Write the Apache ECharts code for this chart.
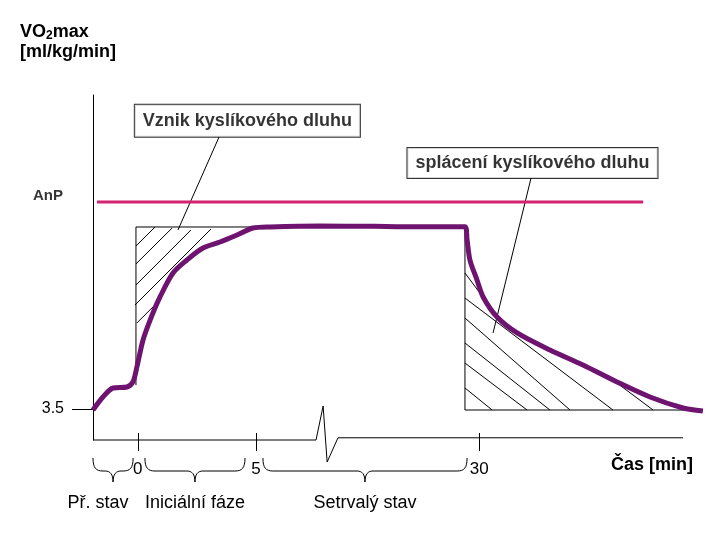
<!DOCTYPE html>
<html>
<head>
<meta charset="utf-8">
<script src="https://cdn.jsdelivr.net/npm/echarts@6/dist/echarts.min.js"></script>
<style>
  html, body { margin: 0; background: #fff; }
  #chart { width: 720px; height: 540px; }
</style>
</head>
<body>
<div id="chart"></div>
<script>
// schematic time axis: 1 unit = 1 min up to the break, the "30 min" tick sits at 14.46
var tickPos = [0, 5, 14.46]
var tickLabels = ['0', '5', '30']
var yTicks = [3.5]
var anpLevel = 26.9
var anpFrom = -1.73
var anpTo = 21.41

// VO2 curve (ml/kg/min)
var curveX = [-1.9, -1.48, -1.05, -0.46, -0.21, -0.04, 0.22, 0.52, 0.94, 1.49, 2.08, 2.76, 3.48, 4.2, 4.88, 5.6, 7.72, 10.0, 12.0, 13.86,
  13.95, 14.07, 14.37, 14.63, 15.22, 16.07, 17.46, 18.86, 20.3, 21.7, 23.1, 23.94]
var curveY = [3.39, 4.86, 5.88, 5.99, 6.56, 8.25, 11.3, 13.56, 16.17, 18.88, 20.35, 21.7, 22.38, 23.17, 23.96, 24.08, 24.19, 24.15, 24.1, 24.1,
  22.61, 20.35, 18.09, 16.17, 13.9, 12.1, 10.17, 8.48, 6.56, 4.86, 3.62, 3.28]

// oxygen deficit / debt frames
var deficitFrame = [[-0.08, 6.2], [-0.08, 24.08], [4.9, 24.08]]
var debtFrame = [[13.86, 24.08], [13.86, 3.39], [23.94, 3.39]]

// hatch strokes [x1, y1, x2, y2]
var deficitHatch = [
  [-0.08, 21.93, 0.73, 24.08],
  [-0.08, 19.9, 1.45, 23.96],
  [-0.08, 17.52, 2.25, 23.74],
  [-0.12, 15.26, 3.1, 23.85],
  [-0.04, 13.23, 0.85, 15.6]
]
var debtHatch = [
  [13.86, 18.88, 15.22, 14.02],
  [13.86, 16.05, 20.13, 3.39],
  [13.86, 13.79, 18.31, 3.39],
  [13.86, 10.97, 17.46, 3.39],
  [13.86, 8.7, 16.49, 3.39],
  [13.86, 5.88, 15.01, 3.39],
  [20.3, 6.44, 21.83, 3.39]
]

// callouts
var notes = ['Vznik kyslíkového dluhu', 'splácení kyslíkového dluhu']
var noteX = [4.64, 16.72]
var noteY = [36.1, 31.31]
var pointerFrom = [[3.44, 34.25], [16.66, 29.62]]
var pointerTo = [[1.7, 23.74], [15.05, 12.1]]
var anpLabelAt = [-3.81, 27.58]

// phases under the axis
var phaseFrom = [-1.9, 0.3, 5.3]
var phaseTo = [-0.2, 4.54, 13.95]
var phaseLabels = ['Př. stav', 'Iniciální fáze', 'Setrvalý stav']

// x axis drawn by hand because of the break
var axisPath = [[-1.9, 0], [7.55, 0], [7.85, 3.84], [8.02, -2.49], [8.48, 0.25], [23.1, 0.25]]

var FONT = 'Liberation Sans, Arial, sans-serif'
var phaseShift = [-15, 0, 0]
var notePadding = [[7, 8], [6, 8]]

function segs(list) {
  return list.map(function(s) {
    return { coords: [[s[0], s[1]], [s[2], s[3]]] }
  })
}

var chart = echarts.init(document.getElementById('chart'))

chart.setOption({
  animation: false,
  backgroundColor: '#fff',
  title: [{
    left: 20,
    top: 22,
    padding: 0,
    text: '{b|VO}{s|2}{b|max}\n{b|[ml/kg/min]}',
    textStyle: {
      rich: {
        b: { fontFamily: FONT, fontSize: 18, fontWeight: 'bold', color: '#000', lineHeight: 20 },
        s: { fontFamily: FONT, fontSize: 12, fontWeight: 'bold', color: '#000', lineHeight: 12, verticalAlign: 'bottom' }
      }
    }
  }, {
    left: 611,
    top: 455,
    padding: 0,
    text: 'Čas [min]',
    textStyle: { fontFamily: FONT, fontSize: 18, fontWeight: 'bold', color: '#000', lineHeight: 20 }
  }],
  grid: { left: 93, top: 95, right: 15, bottom: 100 },
  xAxis: [{
    type: 'value',
    min: -1.9,
    max: 24.03,
    position: 'bottom',
    axisLine: { show: false },
    splitLine: { show: false },
    axisTick: { show: true, customValues: tickPos, length: 11, lineStyle: { color: '#000', width: 1 } },
    axisLabel: {
      customValues: tickPos,
      margin: 21,
      fontFamily: FONT,
      fontSize: 17,
      color: '#000',
      formatter: function(v) {
        var i = tickPos.indexOf(v)
        return i < 0 ? '' : tickLabels[i]
      }
    }
  }, {
    type: 'value',
    min: -1.9,
    max: 24.03,
    position: 'bottom',
    axisLine: { show: false },
    splitLine: { show: false },
    axisTick: { show: true, inside: true, customValues: tickPos, length: 7, lineStyle: { color: '#000', width: 1 } },
    axisLabel: { show: false }
  }],
  yAxis: {
    type: 'value',
    min: 0,
    max: 39,
    axisLine: { show: true, onZero: false, lineStyle: { color: '#000', width: 1 } },
    splitLine: { show: false },
    axisTick: { show: true, customValues: yTicks, length: 21, lineStyle: { color: '#000', width: 1 } },
    axisLabel: {
      customValues: yTicks,
      margin: 29,
      fontFamily: FONT,
      fontSize: 16,
      color: '#000',
      formatter: function(v) { return String(v) }
    }
  },
  series: [
    {
      type: 'lines',
      coordinateSystem: 'cartesian2d',
      polyline: true,
      clip: false,
      silent: true,
      lineStyle: { color: '#000', width: 1, opacity: 1 },
      data: [{ coords: axisPath }, { coords: deficitFrame }, { coords: debtFrame }]
    },
    {
      type: 'lines',
      coordinateSystem: 'cartesian2d',
      clip: false,
      silent: true,
      lineStyle: { color: '#000', width: 1, opacity: 1 },
      data: segs(deficitHatch).concat(segs(debtHatch)).concat(pointerFrom.map(function(p, i) {
        return { coords: [p, pointerTo[i]] }
      }))
    },
    {
      type: 'line',
      name: 'AnP',
      showSymbol: false,
      clip: false,
      silent: true,
      lineStyle: { color: '#d2236e', width: 3 },
      data: [[anpFrom, anpLevel], [anpTo, anpLevel]],
      z: 3
    },
    {
      type: 'line',
      name: 'VO2',
      showSymbol: false,
      smooth: 0.3,
      clip: false,
      silent: true,
      lineStyle: { color: '#6e1470', width: 5 },
      data: curveX.map(function(x, i) { return [x, curveY[i]] }),
      z: 4
    },
    {
      type: 'scatter',
      symbolSize: 0,
      clip: false,
      silent: true,
      z: 5,
      label: {
        show: true,
        position: 'inside',
        fontFamily: FONT,
        fontSize: 18,
        fontWeight: 'bold',
        color: '#000',
        backgroundColor: '#fff',
        borderColor: '#000',
        borderWidth: 1
      },
      data: notes.map(function(t, i) {
        return { value: [noteX[i], noteY[i]], label: { formatter: t, padding: notePadding[i] } }
      })
    },
    {
      type: 'scatter',
      symbolSize: 0,
      clip: false,
      silent: true,
      label: {
        show: true,
        position: 'inside',
        fontFamily: FONT,
        fontSize: 15,
        fontWeight: 'bold',
        color: '#000',
        formatter: 'AnP'
      },
      data: [anpLabelAt]
    },
    {
      type: 'custom',
      clip: false,
      silent: true,
      data: phaseFrom.map(function(x, i) { return [x, phaseTo[i]] }),
      renderItem: function(params, api) {
        var a = api.coord([api.value(0), 0])
        var b = api.coord([api.value(1), 0])
        var x1 = a[0], x2 = b[0], y0 = a[1]
        var xm = (x1 + x2) / 2
        var top = y0 + 18, mid = y0 + 31, tip = y0 + 42
        var d = 'M' + x1 + ',' + top +
          ' C' + x1 + ',' + (mid - 3) + ' ' + (x1 + 3) + ',' + mid + ' ' + (x1 + 10) + ',' + mid +
          ' L' + (xm - 8) + ',' + mid +
          ' C' + (xm - 3) + ',' + mid + ' ' + xm + ',' + (mid + 3) + ' ' + xm + ',' + tip +
          ' C' + xm + ',' + (mid + 3) + ' ' + (xm + 3) + ',' + mid + ' ' + (xm + 8) + ',' + mid +
          ' L' + (x2 - 10) + ',' + mid +
          ' C' + (x2 - 3) + ',' + mid + ' ' + x2 + ',' + (mid - 3) + ' ' + x2 + ',' + top
        return {
          type: 'group',
          children: [{
            type: 'path',
            shape: { pathData: d },
            style: { fill: 'none', stroke: '#000', lineWidth: 1 }
          }, {
            type: 'text',
            x: xm + phaseShift[params.dataIndex],
            y: y0 + 63,
            style: {
              text: phaseLabels[params.dataIndex],
              fill: '#000',
              font: '18px ' + FONT,
              align: 'center',
              verticalAlign: 'middle'
            }
          }]
        }
      }
    }
  ]
})
</script>
</body>
</html>
